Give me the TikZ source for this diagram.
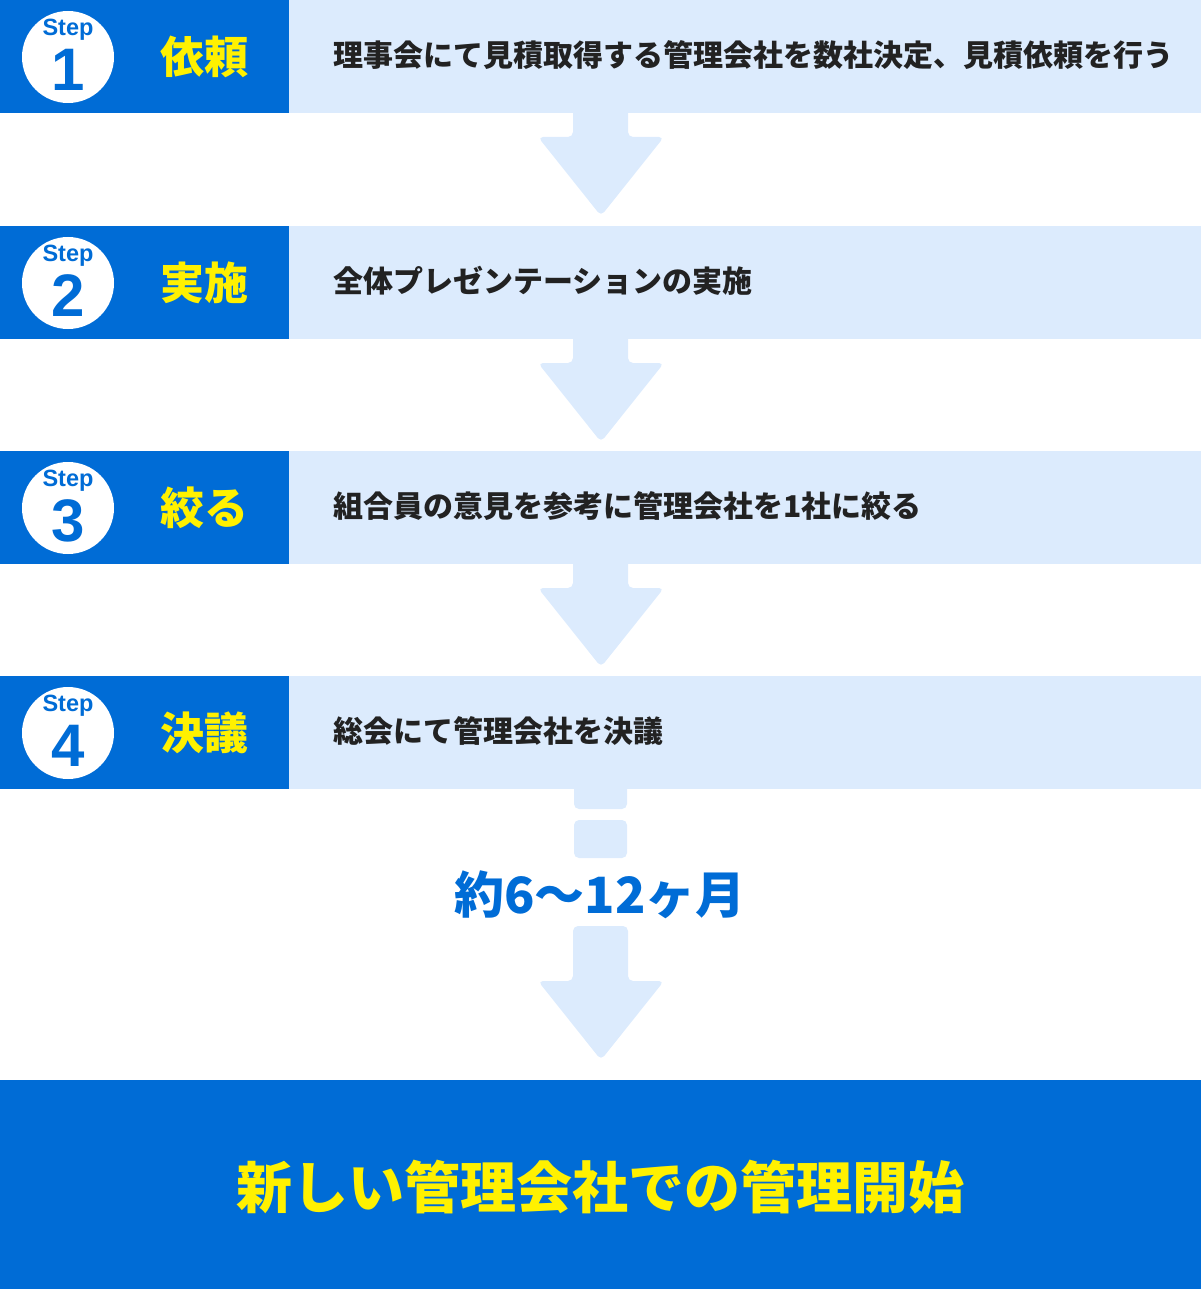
\documentclass[tikz,border=0pt]{standalone}
\usepackage{fontspec}
\setmainfont{Noto Sans CJK JP}
\newfontfamily\stepfont{Liberation Sans}
\definecolor{mainblue}{HTML}{006CD6}
\definecolor{paleblue}{HTML}{DCEBFD}
\definecolor{yel}{HTML}{FFF100}
\definecolor{txt}{HTML}{222222}
\begin{document}
\begin{tikzpicture}[x=1pt,y=-1pt,
  stepbox/.style={fill=mainblue,draw=none,minimum width=289pt,minimum height=113pt,inner sep=0pt,anchor=north west},
  descbox/.style={fill=paleblue,draw=none,minimum width=912pt,minimum height=113pt,inner sep=0pt,anchor=north west},
  circ/.style={circle,fill=white,draw=none,minimum size=92pt,inner sep=0pt},
  steplbl/.style={text=mainblue,font=\stepfont\bfseries\fontsize{23.5}{24}\selectfont,inner sep=0pt},
  stepnum/.style={text=mainblue,font=\stepfont\bfseries\fontsize{60}{60}\selectfont,inner sep=0pt},
  titlelbl/.style={text=yel,font=\bfseries\fontsize{44}{44}\selectfont,inner sep=0pt},
  desclbl/.style={text=txt,font=\bfseries\fontsize{30}{30}\selectfont,inner sep=0pt,anchor=west},
  flow/.style={fill=paleblue,draw=none,rounded corners=5pt}]
\useasboundingbox (0,0) rectangle (1201,1289);
\foreach \i/\y/\lab/\desc in {1/0/依頼/理事会にて見積取得する管理会社を数社決定、見積依頼を行う,
  2/226/実施/全体プレゼンテーションの実施,
  3/451/絞る/組合員の意見を参考に管理会社を1社に絞る,
  4/676/決議/総会にて管理会社を決議}{
  \node[stepbox] (s\i) at (0,\y) {};
  \node[descbox] (d\i) at (289,\y) {};
  \node[circ] (c\i) at (68,\y+57) {};
  \node[steplbl] (sl\i) at (68,\y+30) {Step};
  \node[stepnum] (sn\i) at (68,\y+70) {\i};
  \node[titlelbl] (t\i) at (204,\y+57) {\lab};
  \node[desclbl] (x\i) at (333,\y+55) {\desc};
}
\foreach \t in {113,339,564}{
  \fill[flow] (573,\t-6) -- (573,\t+24) -- (538,\t+24) -- (601,\t+103) -- (664,\t+24) -- (628,\t+24) -- (628,\t-6) -- cycle;
}
% after step 4
\fill[flow] (574,782) rectangle (627,809);
\fill[flow] (574,820) rectangle (627,858);
\node[text=mainblue,font=\bfseries\fontsize{50}{50}\selectfont,inner sep=0pt] (dur) at (600,895) {約6〜12ヶ月};
\fill[flow] (573,926) -- (573,981) -- (538,981) -- (601,1060) -- (664,981) -- (628,981) -- (628,926) -- cycle;
\node[fill=mainblue,draw=none,minimum width=1201pt,minimum height=209pt,inner sep=0pt,anchor=north west] (final) at (0,1080) {};
\node[text=yel,font=\bfseries\fontsize{56}{56}\selectfont,inner sep=0pt] (fl) at (600,1187) {新しい管理会社での管理開始};
\end{tikzpicture}
\end{document}
